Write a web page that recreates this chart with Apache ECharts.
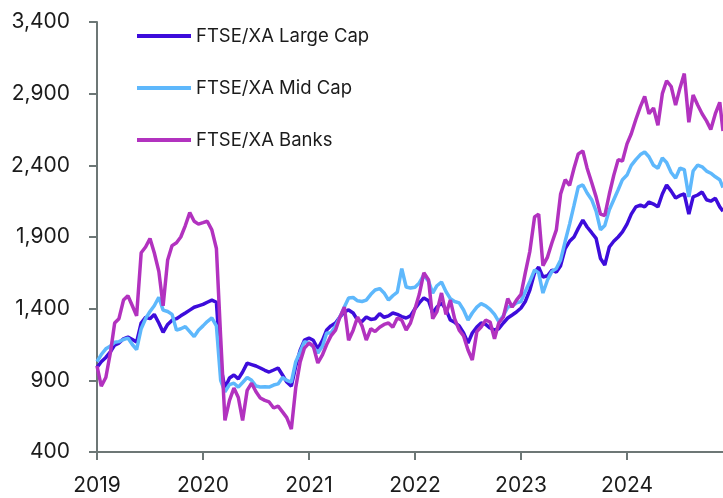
<!DOCTYPE html>
<html><head><meta charset="utf-8">
<script src="https://cdn.jsdelivr.net/npm/echarts@6/dist/echarts.min.js"></script>
<style>html,body{margin:0;padding:0;background:#fff}#c{width:723px;height:498px}</style>
</head><body><div id="c"></div>
<script>
const seriesNames = ['FTSE/XA Large Cap', 'FTSE/XA Mid Cap', 'FTSE/XA Banks'];
const yTickValues = [400, 900, 1400, 1900, 2400, 2900, 3400];
const xTickYears = [2019, 2020, 2021, 2022, 2023, 2024];

// observation dates: 1st and 16th of each month, Jan 2019 .. mid Nov 2024, plus last obs
const dates = [];
for (let y = 2019; y <= 2024; y++) {
  for (let m = 1; m <= 12; m++) {
    for (const d of [1, 16]) {
      if (y === 2024 && (m > 11 || (m === 11 && d > 16))) continue;
      dates.push(y + '-' + String(m).padStart(2, '0') + '-' + String(d).padStart(2, '0'));
    }
  }
}
dates.push('2024-11-27');

const largeCap = [
  990,1030,1060,1100,1146,1160,1190,1202,1185,1167,1300,1340,1330,1360,1300,1235,1290,1320,1330,1350,1370,1390,1410,1420,
  1430,1445,1460,1445,1000,846,916,937,910,958,1020,1010,1000,986,970,958,972,986,937,888,860,1000,1110,1180,
  1195,1180,1120,1181,1251,1280,1300,1342,1377,1391,1370,1320,1310,1342,1325,1330,1365,1340,1350,1370,1360,1345,1335,1350,
  1400,1440,1475,1455,1370,1411,1440,1395,1321,1305,1280,1230,1160,1230,1272,1300,1290,1265,1251,1260,1300,1335,1356,1377,
  1405,1450,1530,1650,1690,1621,1630,1670,1655,1700,1820,1870,1900,1960,2018,1970,1930,1890,1750,1705,1830,1870,1900,1935,
  1990,2060,2110,2123,2110,2144,2130,2110,2200,2263,2220,2172,2190,2200,2060,2180,2193,2214,2160,2150,2170,2110,2080
];
const midCap = [
  1030,1080,1120,1140,1165,1170,1185,1195,1150,1115,1260,1330,1380,1420,1480,1390,1380,1360,1250,1260,1275,1240,1205,1250,
  1280,1310,1335,1280,900,820,870,880,853,885,920,900,860,853,855,853,867,875,920,900,888,1030,1098,1170,
  1160,1133,1091,1140,1230,1230,1280,1342,1411,1474,1478,1455,1450,1460,1500,1530,1540,1510,1460,1490,1516,1680,1551,1544,
  1550,1580,1635,1590,1509,1560,1586,1520,1470,1450,1440,1391,1321,1370,1411,1435,1420,1395,1360,1310,1350,1411,1420,1440,
  1450,1520,1590,1670,1650,1509,1600,1660,1680,1740,1870,1990,2120,2249,2263,2207,2160,2080,1950,1980,2090,2160,2230,2300,
  2332,2400,2440,2475,2493,2460,2400,2380,2451,2420,2350,2311,2381,2370,2180,2360,2402,2390,2360,2345,2320,2300,2245
];
const banks = [
  1000,860,920,1100,1300,1330,1460,1490,1420,1350,1790,1830,1890,1790,1660,1420,1740,1840,1860,1900,1980,2070,2010,1990,
  2000,2010,1950,1820,1200,620,760,846,780,620,830,880,820,777,760,749,707,720,680,640,560,850,1028,1125,
  1160,1140,1021,1080,1150,1210,1250,1340,1411,1180,1250,1342,1280,1181,1260,1240,1270,1290,1300,1270,1335,1320,1251,1300,
  1400,1500,1650,1600,1330,1380,1509,1360,1460,1330,1250,1210,1112,1042,1240,1272,1320,1307,1190,1300,1342,1470,1411,1460,
  1500,1650,1800,2040,2060,1700,1760,1860,1950,2200,2300,2260,2380,2480,2500,2380,2280,2180,2060,2050,2200,2330,2440,2430,
  2550,2620,2720,2810,2880,2760,2800,2680,2900,2990,2950,2820,2940,3040,2700,2891,2821,2760,2710,2650,2760,2840,2640
];

function toYear(s) {
  const [y, m, d] = s.split('-').map(Number);
  const dim = new Date(y, m, 0).getDate();
  return y + (m - 1) / 12 + (d - 1) / (dim * 12);
}
const xs = dates.map(toYear);
const pair = vals => vals.map((v, i) => [xs[i], v]);

const colors = ['#3D0CDB', '#5EB8FC', '#B232BF'];
const axisColor = '#6d7776';
const font = 'Inter, Roboto, sans-serif';

const chart = echarts.init(document.getElementById('c'), null, {renderer: 'canvas'});
chart.setOption({
  animation: false,
  color: colors,
  grid: {left: 97, right: 0, top: 22, bottom: 46},
  legend: {
    data: seriesNames,
    orient: 'vertical',
    left: 137, top: 26,
    padding: 0,
    icon: 'rect',
    itemWidth: 54, itemHeight: 4,
    itemGap: 32,
    textStyle: {fontFamily: font, fontSize: 18.5, color: '#1b1b1b', lineHeight: 20}
  },
  xAxis: {
    type: 'value',
    min: 2019, max: toYear('2024-11-27'),
    interval: 1,
    axisLine: {show: true, lineStyle: {color: axisColor, width: 2}},
    axisTick: {show: true, length: 8, lineStyle: {color: axisColor, width: 2}, customValues: xTickYears},
    axisLabel: {customValues: xTickYears, formatter: v => String(Math.round(v)), fontFamily: font, fontSize: 21, color: '#1b1b1b', margin: 23},
    splitLine: {show: false}
  },
  yAxis: {
    type: 'value',
    min: yTickValues[0], max: yTickValues[yTickValues.length - 1], interval: 500,
    axisLine: {show: true, lineStyle: {color: axisColor, width: 2}},
    axisTick: {show: true, length: 8, lineStyle: {color: axisColor, width: 2}},
    axisLabel: {formatter: v => v.toLocaleString('en-US'), fontFamily: font, fontSize: 21, color: '#1b1b1b', margin: 27},
    splitLine: {show: false}
  },
  series: [
    {name: seriesNames[0], type: 'line', data: pair(largeCap), showSymbol: false, symbol: 'none', lineStyle: {width: 3.5}},
    {name: seriesNames[1], type: 'line', data: pair(midCap), showSymbol: false, symbol: 'none', lineStyle: {width: 3.5}},
    {name: seriesNames[2], type: 'line', data: pair(banks), showSymbol: false, symbol: 'none', lineStyle: {width: 3.5}}
  ]
});
</script>
</body></html>
